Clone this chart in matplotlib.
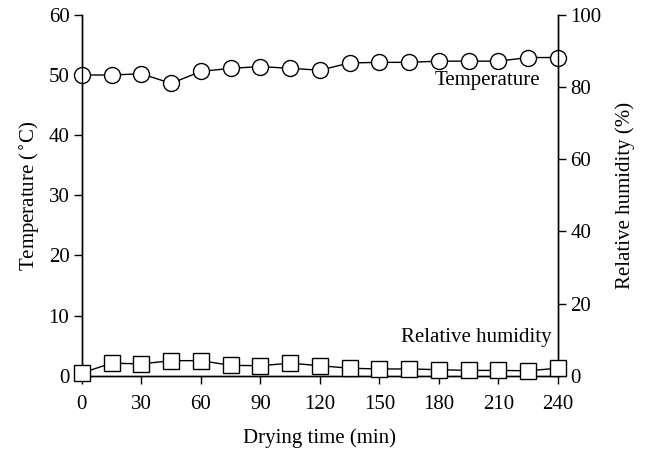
import matplotlib
matplotlib.use("Agg")
import matplotlib.pyplot as plt

time_min = [0, 15, 30, 45, 60, 75, 90, 105, 120, 135, 150, 165, 180, 195, 210, 225, 240]
temperature = [50.0, 50.0, 50.2, 48.6, 50.6, 51.1, 51.4, 51.1, 50.8, 52.0, 52.1, 52.1,
               52.3, 52.3, 52.3, 52.9, 52.9]
humidity = [0.8, 3.5, 3.3, 4.2, 4.2, 2.9, 2.8, 3.5, 2.8, 2.1, 1.9, 1.9, 1.7, 1.5, 1.5,
            1.4, 2.1]
x_ticks = [0, 30, 60, 90, 120, 150, 180, 210, 240]

plt.rcParams['font.family'] = ['Liberation Serif', 'DejaVu Serif']
plt.rcParams['font.size'] = 15

fig = plt.figure(figsize=(6.45, 4.49), dpi=100)
ax = fig.add_axes([0.127, 0.163, 0.738, 0.804])
ax2 = ax.twinx()

ax.plot(time_min, temperature, color='black', lw=1, marker='o', ms=11.5,
        mfc='white', mec='black', mew=1, clip_on=False, zorder=3)
ax2.plot(time_min, humidity, color='black', lw=1, marker='s', ms=11,
         mfc='white', mec='black', mew=1, clip_on=False, zorder=3)

ax.set_xlim(0, 240)
ax.set_ylim(0, 60)
ax2.set_ylim(0, 100)
ax.set_xticks(x_ticks)
ax.set_yticks(range(0, 61, 10))
ax2.set_yticks(range(0, 101, 20))

for a in (ax, ax2):
    a.spines['top'].set_visible(False)
    for s in a.spines.values():
        s.set_linewidth(1)
    a.tick_params(direction='out', length=6, width=1, pad=3)
ax.tick_params(axis='x', pad=8)

ax.set_xlabel("Drying time (min)", labelpad=10)
ax.set_ylabel("Temperature ($^{\\circ}$C)", labelpad=5)
ax2.set_ylabel("Relative humidity (%)", labelpad=10)

ax.text(231, 49.0, "Temperature", ha='right', va='center')
ax.text(237, 6.3, "Relative humidity", ha='right', va='center')

plt.savefig("out.png", dpi=100)
